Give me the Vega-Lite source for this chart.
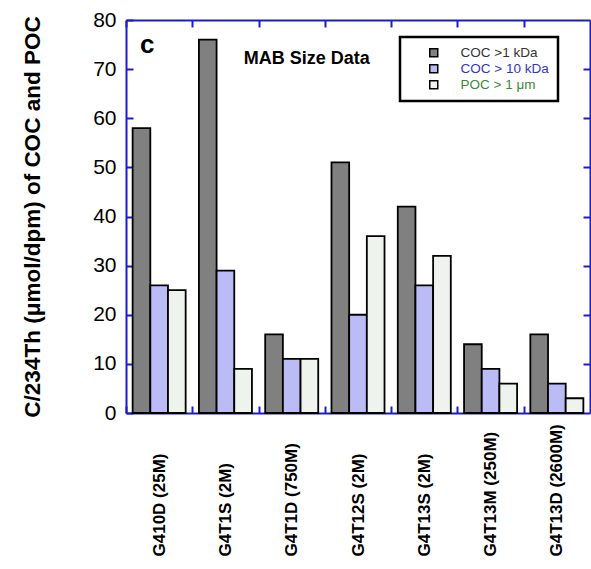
{
  "$schema": "https://vega.github.io/schema/vega-lite/v6.json",
  "width": 464,
  "height": 393,
  "autosize": {"type": "none"},
  "padding": {"left": 126, "top": 20, "right": 1, "bottom": 156},
  "background": "white",
  "config": {
    "font": "Liberation Sans",
    "view": {"stroke": null},
    "axis": {"grid": false, "domainColor": "#1c1cc8", "domainWidth": 2, "tickColor": "#1c1cc8", "tickWidth": 2, "tickSize": -7, "labelColor": "black"}
  },
  "data": {"values": [
    {"sample": "G410D (25M)", "series": "COC >1 kDa", "value": 58},
    {"sample": "G410D (25M)", "series": "COC > 10 kDa", "value": 26},
    {"sample": "G410D (25M)", "series": "POC > 1 μm", "value": 25},
    {"sample": "G4T1S (2M)", "series": "COC >1 kDa", "value": 76},
    {"sample": "G4T1S (2M)", "series": "COC > 10 kDa", "value": 29},
    {"sample": "G4T1S (2M)", "series": "POC > 1 μm", "value": 9},
    {"sample": "G4T1D (750M)", "series": "COC >1 kDa", "value": 16},
    {"sample": "G4T1D (750M)", "series": "COC > 10 kDa", "value": 11},
    {"sample": "G4T1D (750M)", "series": "POC > 1 μm", "value": 11},
    {"sample": "G4T12S (2M)", "series": "COC >1 kDa", "value": 51},
    {"sample": "G4T12S (2M)", "series": "COC > 10 kDa", "value": 20},
    {"sample": "G4T12S (2M)", "series": "POC > 1 μm", "value": 36},
    {"sample": "G4T13S (2M)", "series": "COC >1 kDa", "value": 42},
    {"sample": "G4T13S (2M)", "series": "COC > 10 kDa", "value": 26},
    {"sample": "G4T13S (2M)", "series": "POC > 1 μm", "value": 32},
    {"sample": "G4T13M (250M)", "series": "COC >1 kDa", "value": 14},
    {"sample": "G4T13M (250M)", "series": "COC > 10 kDa", "value": 9},
    {"sample": "G4T13M (250M)", "series": "POC > 1 μm", "value": 6},
    {"sample": "G4T13D (2600M)", "series": "COC >1 kDa", "value": 16},
    {"sample": "G4T13D (2600M)", "series": "COC > 10 kDa", "value": 6},
    {"sample": "G4T13D (2600M)", "series": "POC > 1 μm", "value": 3}
  ]},
  "layer": [
    {
      "mark": {"type": "bar", "stroke": "black", "strokeWidth": 1.8},
      "encoding": {
        "x": {"field": "sample", "type": "nominal", "sort": null,
          "scale": {"paddingInner": 0.2, "paddingOuter": 0.1},
          "axis": {"orient": "bottom", "title": null, "labelAngle": -90, "labelAlign": "left", "labelBaseline": "middle", "labelPadding": 150, "labelFontSize": 17, "labelFontWeight": "bold", "tickOffset": -33.14, "labelOffset": 33.14}},
        "xOffset": {"field": "series", "type": "nominal", "sort": null, "scale": {"paddingInner": 0, "paddingOuter": 0}},
        "y": {"field": "value", "type": "quantitative", "scale": {"domain": [0, 80], "nice": false},
          "axis": {"orient": "left", "values": [0, 10, 20, 30, 40, 50, 60, 70, 80], "title": "C/234Th (μmol/dpm) of COC and POC", "titleFontSize": 22.5, "titleFontWeight": "bold", "titleColor": "black", "labelFontSize": 21, "labelPadding": 17, "titlePadding": 48}},
        "color": {"field": "series", "type": "nominal", "sort": null,
          "scale": {"domain": ["COC >1 kDa", "COC > 10 kDa", "POC > 1 μm"], "range": ["#808080", "#bbbbf5", "#eef3ee"]},
          "legend": {"title": null, "orient": "none", "legendX": 274, "legendY": 17, "padding": 9, "strokeColor": "black", "fillColor": "white", "symbolType": "square", "symbolSize": 64, "symbolStrokeColor": "black", "symbolStrokeWidth": 1.5, "symbolOpacity": 1, "symbolOffset": 18, "labelOffset": 20, "labelFontSize": 13.5, "rowPadding": 1, "labelLimit": 300,
            "encode": {
              "legend": {"update": {"strokeWidth": {"value": 2.5}}},
              "labels": {"update": {"fill": {"signal": "datum.value === 'COC >1 kDa' ? '#333333' : datum.value === 'COC > 10 kDa' ? '#3535c8' : '#3a8a3a'"}}}}}}
      }
    },
    {
      "mark": {"type": "bar", "opacity": 0},
      "encoding": {
        "x": {"field": "sample", "type": "nominal", "sort": null, "scale": {"paddingInner": 0.2, "paddingOuter": 0.1}, "axis": {"orient": "top", "labels": false, "title": null, "tickOffset": -33.14}},
        "y": {"field": "value", "type": "quantitative", "axis": {"orient": "right", "labels": false, "title": null, "values": [10, 20, 30, 40, 50, 60, 70]}}
      }
    },
    {
      "data": {"values": [{}]},
      "mark": {"type": "text", "fontSize": 26, "fontWeight": "bold", "dx": -12, "fill": "black"},
      "encoding": {
        "x": {"datum": "G410D (25M)", "type": "nominal", "axis": null},
        "y": {"datum": 75, "type": "quantitative", "axis": null},
        "text": {"value": "c"}
      }
    },
    {
      "data": {"values": [{}]},
      "mark": {"type": "text", "fontSize": 18, "fontWeight": "bold", "dx": 15, "fill": "black"},
      "encoding": {
        "x": {"datum": "G4T1D (750M)", "type": "nominal", "axis": null},
        "y": {"datum": 72, "type": "quantitative", "axis": null},
        "text": {"value": "MAB Size Data"}
      }
    }
  ],
  "resolve": {"axis": {"x": "independent", "y": "independent"}}
}
